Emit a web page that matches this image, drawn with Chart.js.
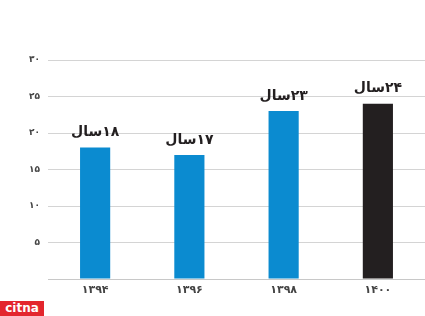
<!DOCTYPE html>
<html>
<head>
<meta charset="utf-8">
<script src="https://cdn.jsdelivr.net/npm/chart.js@4"></script>
<style>
html,body{margin:0;padding:0;background:#fff;}
#wrap{position:relative;width:425px;height:316px;}
#logo{position:absolute;left:0;top:301px;width:44px;height:15px;background:#e3262e;color:#fff;font:bold 12px "DejaVu Sans",sans-serif;line-height:15px;text-align:center;letter-spacing:0px;}
</style>
</head>
<body>
<div id="wrap"><canvas id="c" width="425" height="316"></canvas><div id="logo">citna</div></div>
<script>
const categories = ['۱۳۹۴','۱۳۹۶','۱۳۹۸','۱۴۰۰'];
const values = [18, 17, 23, 24];
const valueLabels = ['۱۸سال','۱۷سال','۲۳سال','۲۴سال'];
const yTickLabels = {5:'۵',10:'۱۰',15:'۱۵',20:'۲۰',25:'۲۵',30:'۳۰'};
const barColors = ['#0b8bd0','#0b8bd0','#0b8bd0','#231f20'];

const labelPlugin = {
  id:'labels',
  afterDatasetsDraw(chart){
    const ctx = chart.ctx;
    const meta = chart.getDatasetMeta(0);
    ctx.save();
    ctx.font = 'bold 14px "DejaVu Sans", sans-serif';
    ctx.fillStyle = '#231f20';
    ctx.textAlign = 'center';
    ctx.textBaseline = 'bottom';
    ctx.direction = 'rtl';
    meta.data.forEach((bar,i)=>{
      ctx.fillText(valueLabels[i], bar.x, bar.y - 8);
    });
    ctx.restore();
  }
};

new Chart(document.getElementById('c'), {
  type:'bar',
  data:{labels:categories, datasets:[{data:values, backgroundColor:barColors, barPercentage:0.32, categoryPercentage:1}]},
  options:{
    responsive:false, animation:false,
    layout:{padding:{top:60,left:0,right:0,bottom:0}},
    plugins:{legend:{display:false}, tooltip:{enabled:false}},
    scales:{
      x:{
        grid:{display:false, drawTicks:false},
        border:{display:true,color:'#c8c8c8'},
        ticks:{color:'#444',font:{family:'DejaVu Sans',size:11,weight:'bold'},padding:5},
        afterFit(s){s.height=37;}
      },
      y:{
        min:0,max:30,
        grid:{color:'#d4d4d4',drawTicks:false},
        border:{display:false},
        ticks:{stepSize:5,color:'#444',font:{family:'DejaVu Sans',size:9,weight:'bold'},padding:8,
          callback:(v)=>yTickLabels[v]||''},
        afterFit(s){s.width=48;}
      }
    }
  },
  plugins:[labelPlugin]
});
</script>
</body>
</html>
